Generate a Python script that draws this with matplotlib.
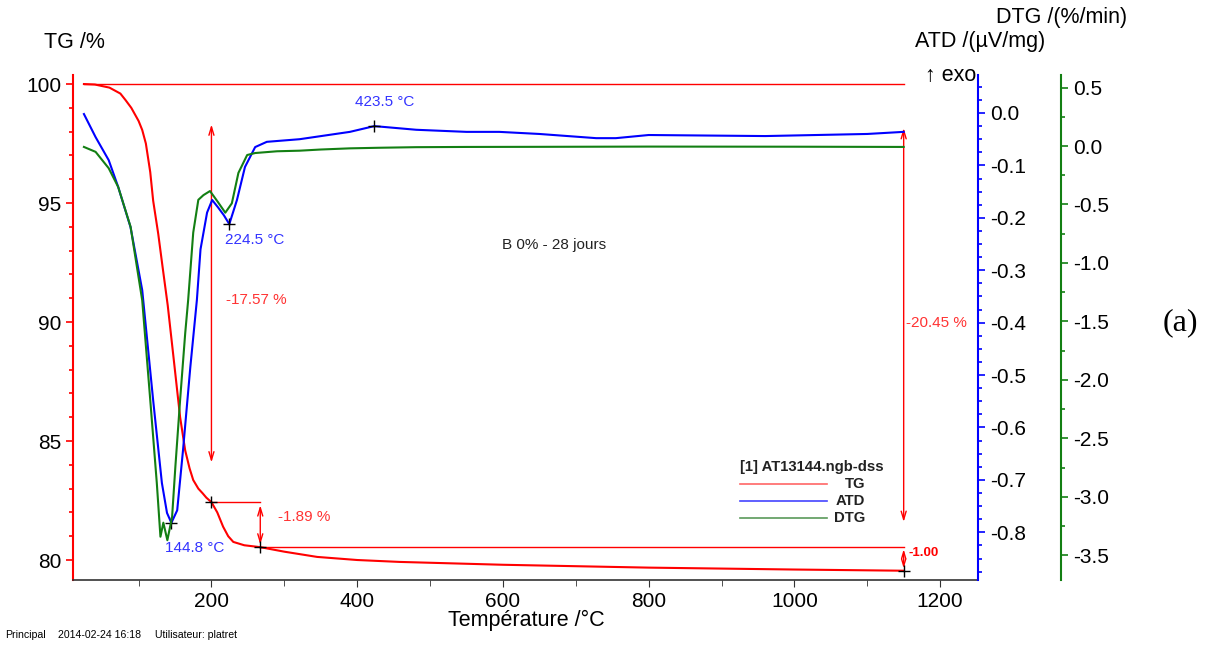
import matplotlib
matplotlib.use("Agg")
from matplotlib import pyplot as plt
from matplotlib.lines import Line2D
from matplotlib.ticker import MultipleLocator

plt.rcParams['font.family'] = ['Liberation Sans', 'DejaVu Sans']

# TG curve (°C, %)
tg_temp = [25, 40, 60, 75, 82, 90, 100, 105, 110, 116, 120, 127, 133, 140, 148, 157, 164, 170,
           175, 182, 188, 193, 200, 208, 216, 223, 230, 245, 267, 300, 345, 400, 458, 600, 800,
           1000, 1150]
tg_val = [100.0, 99.98, 99.85, 99.6, 99.33, 99.0, 98.45, 98.07, 97.5, 96.3, 95.1, 93.7, 92.3,
          90.7, 88.5, 86.0, 84.6, 83.85, 83.36, 83.0, 82.8, 82.62, 82.43, 82.0, 81.4, 81.0,
          80.76, 80.62, 80.54, 80.35, 80.13, 80.0, 79.92, 79.8, 79.68, 79.6, 79.55]

# ATD curve (°C, µV/mg)
atd_temp = [25, 41, 59, 72, 89, 105, 120, 132, 139, 145, 153, 161, 171, 180, 185, 194, 201,
            209, 217, 224.5, 235, 246, 260, 276, 321, 390, 423.5, 481, 550, 595, 650, 728,
            755, 800, 960, 1100, 1150]
atd_val = [-0.002, -0.046, -0.09, -0.141, -0.218, -0.338, -0.548, -0.706, -0.763, -0.782,
           -0.758, -0.643, -0.485, -0.357, -0.26, -0.19, -0.166, -0.18, -0.195, -0.212,
           -0.166, -0.103, -0.065, -0.055, -0.05, -0.036, -0.025, -0.032, -0.036, -0.036,
           -0.04, -0.048, -0.048, -0.042, -0.044, -0.04, -0.036]

# DTG curve (°C, %/min)
dtg_temp = [25, 41, 59, 72, 89, 105, 116, 125, 130, 134, 139.5, 146, 150.5, 157, 164, 168,
            175, 182, 189, 198, 209, 219, 228, 237, 249, 260, 290, 321, 350, 390, 430, 481,
            550, 650, 800, 1000, 1150]
dtg_val = [-0.008, -0.05, -0.19, -0.35, -0.69, -1.32, -2.17, -2.88, -3.34, -3.22, -3.37,
           -3.17, -2.74, -2.17, -1.6, -1.32, -0.74, -0.46, -0.42, -0.385, -0.48, -0.57,
           -0.49, -0.23, -0.077, -0.06, -0.045, -0.04, -0.03, -0.02, -0.015, -0.01, -0.008,
           -0.007, -0.005, -0.006, -0.008]

# marked points
tg_marks_t = [200, 267, 1150]
tg_marks_v = [82.43, 80.54, 79.55]
atd_marks_t = [144.8, 224.5, 423.5]
atd_marks_v = [-0.782, -0.212, -0.025]

RED = '#ff0000'
BLUE = '#0000ff'
GREEN = '#137f13'
W, H = 1211, 646


def fx(px):
    return px / W


def fy(py):
    return 1 - py / H


fig = plt.figure(figsize=(W / 100, H / 100), dpi=100)
ax = fig.add_axes([fx(73), fy(580), (978 - 73) / W, (580 - 75) / H])
ax2 = ax.twinx()
ax3 = ax.twinx()
ax3.spines['right'].set_position(('axes', 1 + 83 / 905))

ax.set_xlim(10, 1252)
ax.set_ylim(79.16, 100.38)
ax2.set_ylim(-0.891, 0.0725)
ax3.set_ylim(-3.71, 0.607)

for a in (ax, ax2, ax3):
    a.spines['top'].set_visible(False)
    a.set_facecolor('none')
ax.spines['right'].set_visible(False)
for a in (ax2, ax3):
    a.spines['left'].set_visible(False)
    a.spines['bottom'].set_visible(False)

ax.spines['left'].set_color(RED)
ax.spines['left'].set_linewidth(1.5)
ax.spines['bottom'].set_color('#333333')
ax.spines['bottom'].set_linewidth(1.2)
ax2.spines['right'].set_color(BLUE)
ax2.spines['right'].set_linewidth(1.5)
ax3.spines['right'].set_color(GREEN)
ax3.spines['right'].set_linewidth(1.5)

ax.xaxis.set_major_locator(MultipleLocator(200))
ax.xaxis.set_minor_locator(MultipleLocator(100))
ax.yaxis.set_major_locator(MultipleLocator(5))
ax.yaxis.set_minor_locator(MultipleLocator(1))
ax2.yaxis.set_major_locator(MultipleLocator(0.1))
ax2.yaxis.set_minor_locator(MultipleLocator(0.025))
ax3.yaxis.set_major_locator(MultipleLocator(0.5))
ax3.yaxis.set_minor_locator(MultipleLocator(0.25))

TICK = 15
ax.tick_params(axis='x', which='both', direction='out', labelsize=TICK, colors='#333333', labelcolor='black')
ax.tick_params(axis='x', which='major', length=5)
ax.tick_params(axis='x', which='minor', length=4)
ax.tick_params(axis='y', which='both', color=RED, labelsize=TICK, width=1.2)
ax.tick_params(axis='y', which='major', length=5)
ax.tick_params(axis='y', which='minor', length=3)
ax2.tick_params(axis='y', which='both', color=BLUE, labelsize=TICK, width=1.2)
ax2.tick_params(axis='y', which='major', length=5)
ax2.tick_params(axis='y', which='minor', length=3)
ax3.tick_params(axis='y', which='both', color=GREEN, labelsize=TICK, width=1.2)
ax3.tick_params(axis='y', which='major', length=5)
ax3.tick_params(axis='y', which='minor', length=3)
ax2.yaxis.set_major_formatter(plt.FuncFormatter(lambda v, p: f'{v:.1f}'.replace('-0.0', '0.0')))
ax3.yaxis.set_major_formatter(plt.FuncFormatter(lambda v, p: f'{v:.1f}'.replace('-0.0', '0.0')))

# curves
ax.plot(tg_temp, tg_val, color=RED, lw=1.5, zorder=3)
ax2.plot(atd_temp, atd_val, color=BLUE, lw=1.5, zorder=3)
ax3.plot(dtg_temp, dtg_val, color=GREEN, lw=1.5, zorder=2)

# step lines and arrows
ax.plot([25, 1150], [100, 100], color=RED, lw=1)
ax.plot([200, 267], [82.43, 82.43], color=RED, lw=1)
ax.plot([267, 1150], [80.54, 80.54], color=RED, lw=1)
arrow = dict(arrowstyle='<->,head_length=0.6,head_width=0.18', color=RED, lw=1, shrinkA=0, shrinkB=0)
ax.annotate('', xy=(200, 98.3), xytext=(200, 84.1), arrowprops=arrow)
ax.annotate('', xy=(267, 82.3), xytext=(267, 80.65), arrowprops=arrow)
ax.annotate('', xy=(1150, 98.15), xytext=(1150, 81.6), arrowprops=arrow)
ax.annotate('', xy=(1150, 80.45), xytext=(1150, 79.65),
            arrowprops=dict(arrowstyle='<->,head_length=0.5,head_width=0.15', color=RED, lw=1,
                            shrinkA=0, shrinkB=0))

ax.plot(tg_marks_t, tg_marks_v, ls='none', marker='+', ms=9, mew=1, color='black', zorder=5)
ax2.plot(atd_marks_t, atd_marks_v, ls='none', marker='+', ms=9, mew=1, color='black', zorder=5)

ax.text(219.6, 90.92, '-17.57 %', color='#ff3333', fontsize=11, va='center')
ax.text(292, 81.8, '-1.89 %', color='#ff3333', fontsize=11, va='center')
ax.text(1153.6, 89.96, '-20.45 %', color='#ff3333', fontsize=11, va='center')
ax.text(1156, 80.3, '-1.00', color=RED, fontsize=9.5, fontweight='bold', va='center')
ax.text(136, 80.5, '144.8 °C', color='#3333ff', fontsize=11, va='center')
ax.text(218, 93.45, '224.5 °C', color='#3333ff', fontsize=11, va='center')
ax.text(397, 99.24, '423.5 °C', color='#3333ff', fontsize=11, va='center')
ax.text(599, 93.24, 'B 0% - 28 jours', color='#222222', fontsize=11, va='center')

# legend drawn by hand
fig.text(fx(740), fy(467), '[1] AT13144.ngb-dss', fontsize=10.7, fontweight='bold', va='center', color='#222222')
for name, col, yy in [('TG', '#ff6666', 484), ('ATD', '#4444ff', 501), ('DTG', '#5a9a5a', 518)]:
    fig.add_artist(Line2D([fx(740), fx(827)], [fy(yy), fy(yy)], color=col, lw=1.2))
    fig.text(fx(865), fy(yy), name, fontsize=10.7, fontweight='bold', ha='right', va='center', color='#222222')

# axis titles
fig.text(fx(44), fy(42), 'TG /%', fontsize=15.5, va='center')
fig.text(fx(1045), fy(41), 'ATD /(µV/mg)', fontsize=15.5, va='center', ha='right')
fig.text(fx(1127), fy(17), 'DTG /(%/min)', fontsize=15.5, va='center', ha='right')
fig.text(fx(925), fy(76), '↑ exo', fontsize=15.5, va='center')
fig.text(fx(526), fy(620), 'Température /°C', fontsize=15.5, va='center', ha='center')
fig.text(fx(1180), fy(323), '(a)', fontsize=23, va='center', ha='center', family='Liberation Serif')
fig.text(fx(5), fy(635), 'Principal', fontsize=7.6, va='center')
fig.text(fx(58), fy(635), '2014-02-24 16:18', fontsize=7.6, va='center')
fig.text(fx(155), fy(635), 'Utilisateur: platret', fontsize=7.6, va='center')

fig.savefig('out.png', dpi=100)
